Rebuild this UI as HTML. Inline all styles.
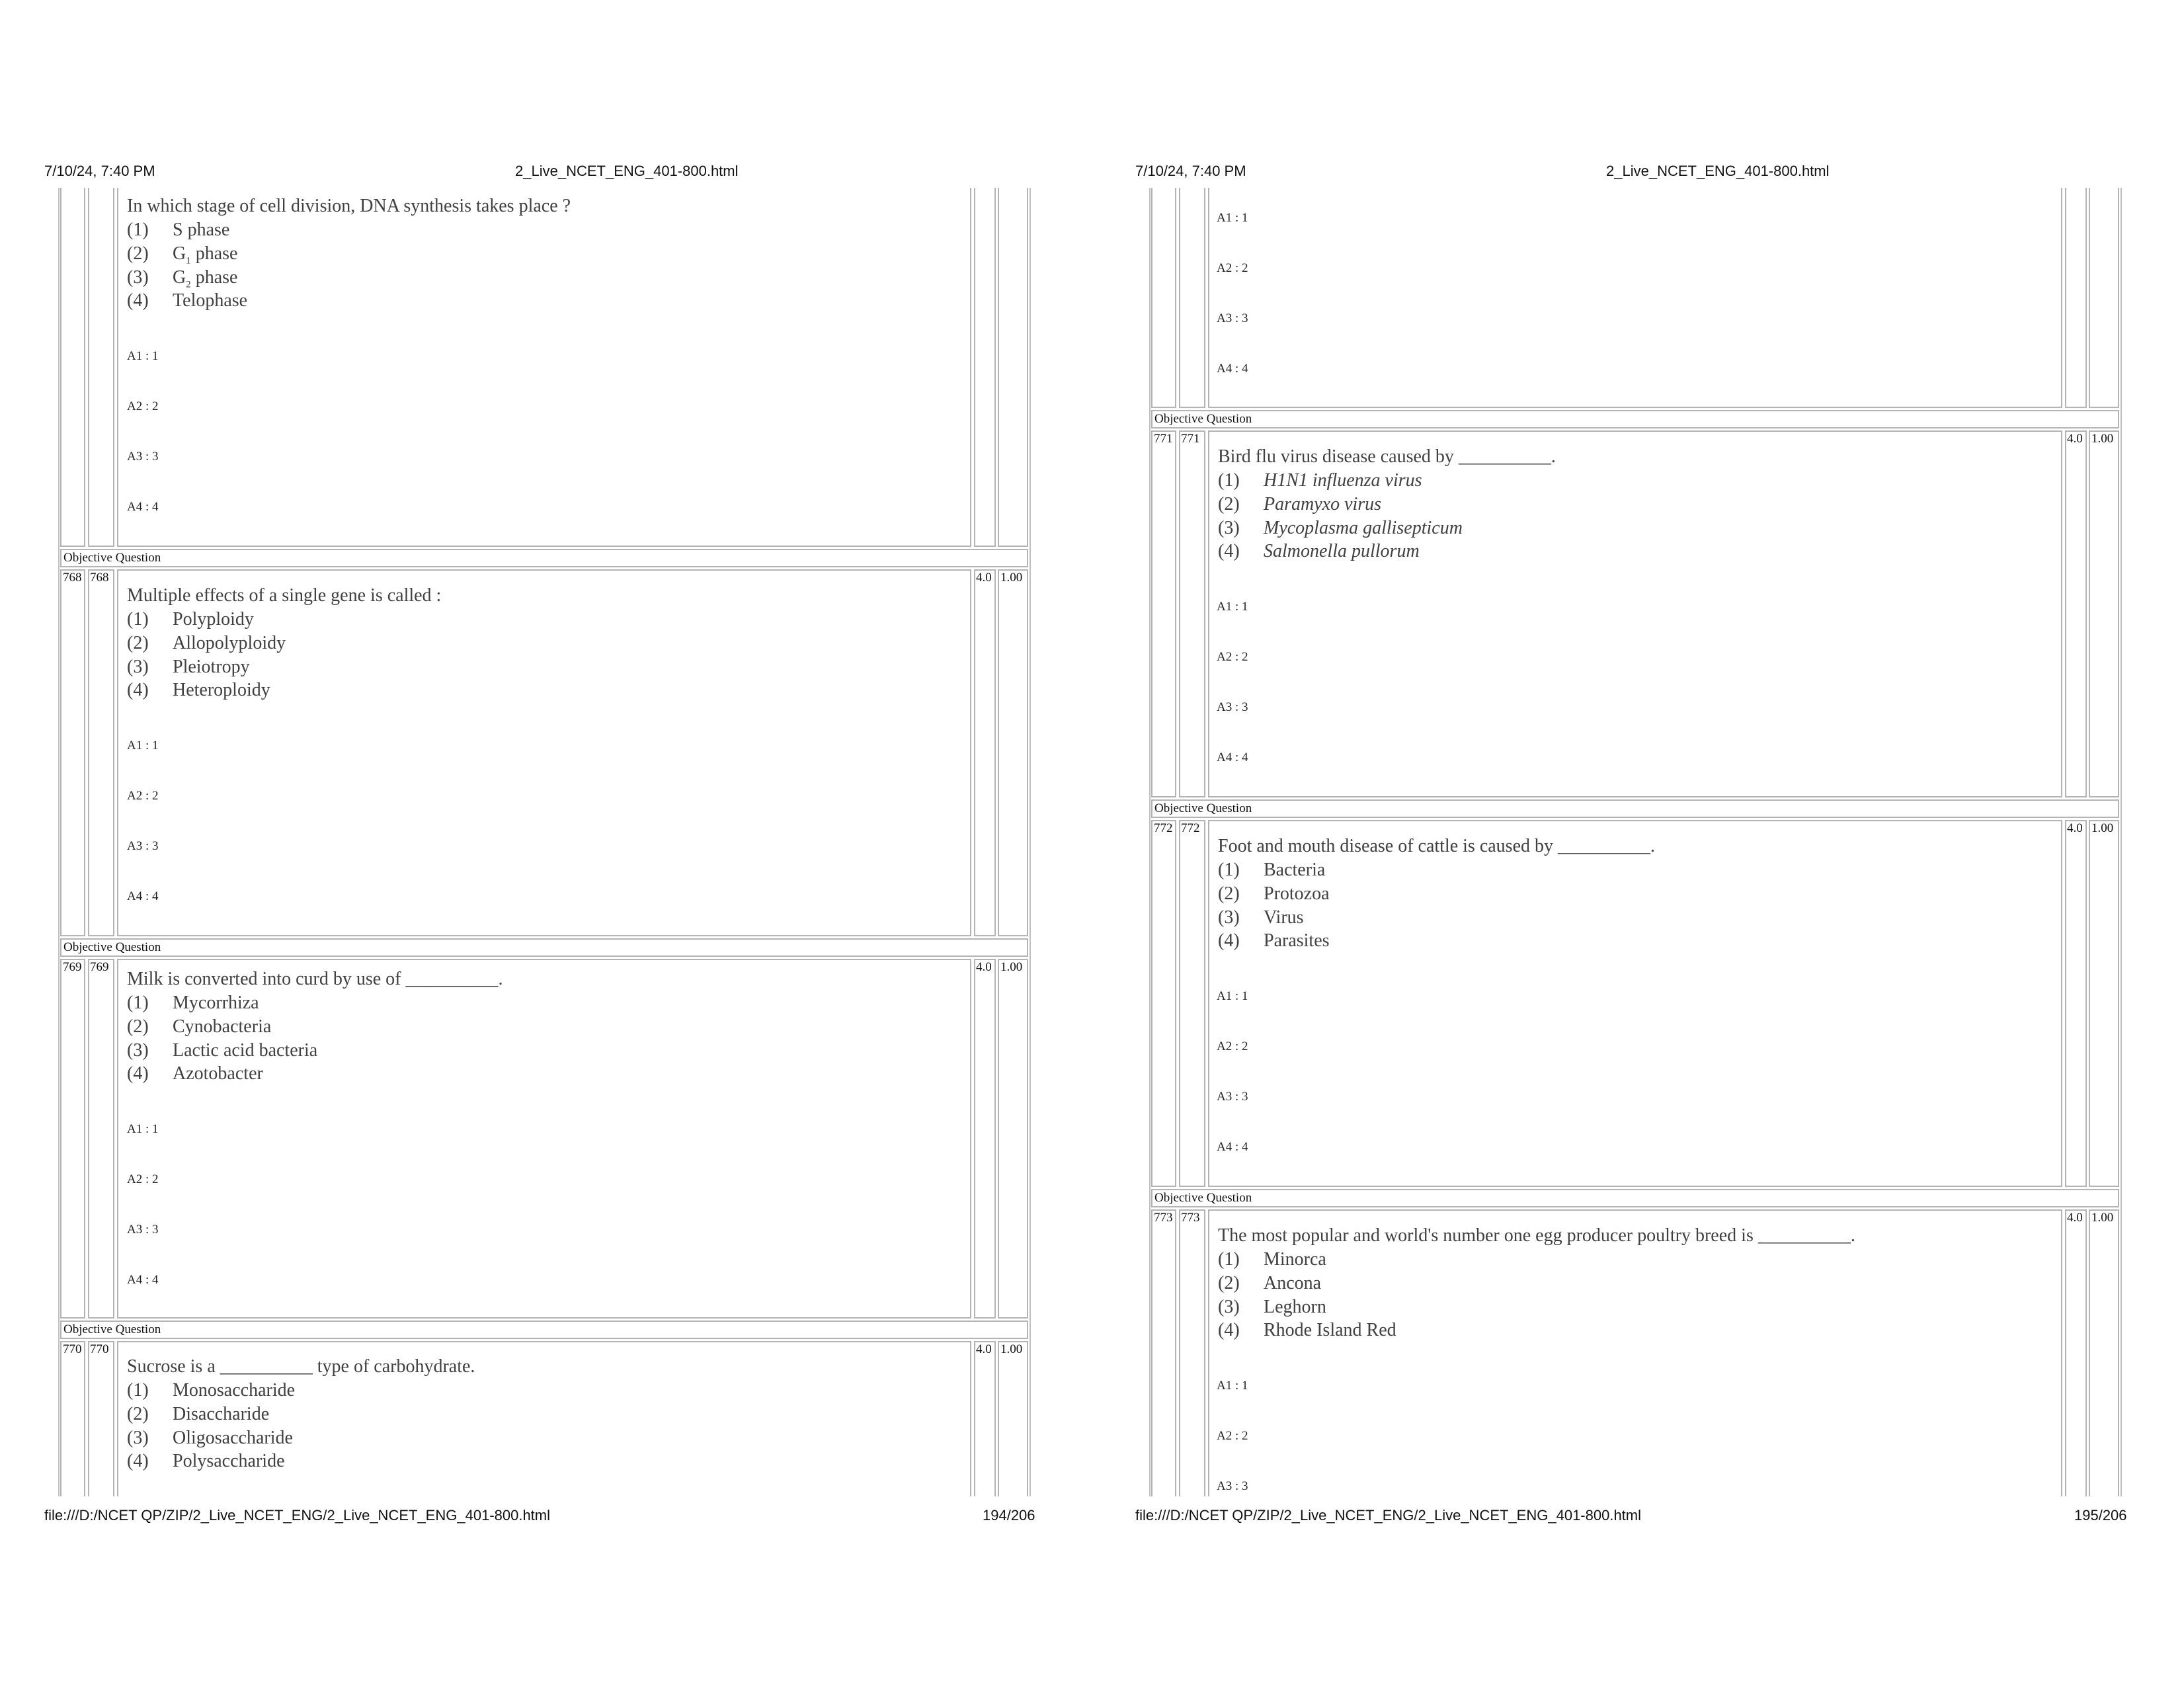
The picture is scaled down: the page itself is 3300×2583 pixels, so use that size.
<!DOCTYPE html>
<html><head><meta charset="utf-8"><style>
html,body{margin:0;padding:0;background:#fff}
body{width:3300px;height:2550px;position:relative;overflow:hidden;font-family:"Liberation Serif",serif}
.hd{position:absolute;font-family:"Liberation Sans",sans-serif;font-size:22px;color:#111;white-space:nowrap;line-height:26px}
.clip{position:absolute;left:0;top:0;width:3300px;height:2550px;clip-path:inset(284px 0 287px 0)}
.c{position:absolute;border:2px solid #b4b4b4;box-sizing:border-box}
.o{position:absolute;border:2px solid #c0c0c0;box-sizing:border-box}
.t{position:absolute;white-space:nowrap;line-height:36px;height:36px}
.q{font-size:28px;color:#404040}
.a{font-size:19px;color:#222}
.n{font-size:19px;color:#111}
.oq{font-size:19px;color:#111}
.op{position:absolute;left:69px}
i{font-style:italic}
</style></head><body>

<div class="hd" style="left:67px;top:246px">7/10/24, 7:40 PM</div>
<div class="hd" style="left:779px;top:246px">2_Live_NCET_ENG_401-800.html</div>
<div class="hd" style="left:1717px;top:246px">7/10/24, 7:40 PM</div>
<div class="hd" style="left:2429px;top:246px">2_Live_NCET_ENG_401-800.html</div>
<div class="hd" style="left:67px;top:2279px">file:///D:/NCET QP/ZIP/2_Live_NCET_ENG/2_Live_NCET_ENG_401-800.html</div>
<div class="hd" style="left:1486px;top:2279px">194/206</div>
<div class="hd" style="left:1717px;top:2279px">file:///D:/NCET QP/ZIP/2_Live_NCET_ENG/2_Live_NCET_ENG_401-800.html</div>
<div class="hd" style="left:3137px;top:2279px">195/206</div>

<div class="clip">
<!-- LEFT PAGE -->
<div class="o" style="left:88px;top:200px;width:1471px;height:2200px"></div>
<div class="c" style="left:91px;top:200px;width:38px;height:627px"></div>
<div class="c" style="left:133px;top:200px;width:40px;height:627px"></div>
<div class="c" style="left:177px;top:200px;width:1292px;height:627px"></div>
<div class="c" style="left:1473px;top:200px;width:33px;height:627px"></div>
<div class="c" style="left:1509px;top:200px;width:46px;height:627px"></div>
<div style="position:absolute;left:192px;top:272px">
<div class="t q" style="top:22px;left:0">In which stage of cell division, DNA synthesis takes place ?</div>
<div class="t q" style="top:58px">(1)<span class="op">S phase</span></div>
<div class="t q" style="top:94px">(2)<span class="op">G<sub style="font-size:15px">1</sub> phase</span></div>
<div class="t q" style="top:130px">(3)<span class="op">G<sub style="font-size:15px">2</sub> phase</span></div>
<div class="t q" style="top:165px">(4)<span class="op">Telophase</span></div>
<div class="t a" style="top:249px">A1 : 1</div>
<div class="t a" style="top:325px">A2 : 2</div>
<div class="t a" style="top:401px">A3 : 3</div>
<div class="t a" style="top:477px">A4 : 4</div>
</div>
<div class="c" style="left:91px;top:830px;width:1464px;height:28px"></div>
<div class="t oq" style="left:96px;top:826px">Objective Question</div>
<!-- row 768 -->
<div class="c" style="left:91px;top:861px;width:38px;height:555px"></div>
<div class="c" style="left:133px;top:861px;width:40px;height:555px"></div>
<div class="c" style="left:177px;top:861px;width:1292px;height:555px"></div>
<div class="c" style="left:1473px;top:861px;width:33px;height:555px"></div>
<div class="c" style="left:1509px;top:861px;width:46px;height:555px"></div>
<div class="t n" style="left:95px;top:856px">768</div>
<div class="t n" style="left:136px;top:856px">768</div>
<div class="t n" style="left:1476px;top:856px">4.0</div>
<div class="t n" style="left:1513px;top:856px">1.00</div>
<div style="position:absolute;left:192px;top:861px">
<div class="t q" style="top:22px">Multiple effects of a single gene is called :</div>
<div class="t q" style="top:58px">(1)<span class="op">Polyploidy</span></div>
<div class="t q" style="top:94px">(2)<span class="op">Allopolyploidy</span></div>
<div class="t q" style="top:130px">(3)<span class="op">Pleiotropy</span></div>
<div class="t q" style="top:165px">(4)<span class="op">Heteroploidy</span></div>
<div class="t a" style="top:249px">A1 : 1</div>
<div class="t a" style="top:325px">A2 : 2</div>
<div class="t a" style="top:401px">A3 : 3</div>
<div class="t a" style="top:477px">A4 : 4</div>
</div>
<div class="c" style="left:91px;top:1419px;width:1464px;height:28px"></div>
<div class="t oq" style="left:96px;top:1415px">Objective Question</div>
<!-- row 769 -->
<div class="c" style="left:91px;top:1450px;width:38px;height:544px"></div>
<div class="c" style="left:133px;top:1450px;width:40px;height:544px"></div>
<div class="c" style="left:177px;top:1450px;width:1292px;height:544px"></div>
<div class="c" style="left:1473px;top:1450px;width:33px;height:544px"></div>
<div class="c" style="left:1509px;top:1450px;width:46px;height:544px"></div>
<div class="t n" style="left:95px;top:1445px">769</div>
<div class="t n" style="left:136px;top:1445px">769</div>
<div class="t n" style="left:1476px;top:1445px">4.0</div>
<div class="t n" style="left:1513px;top:1445px">1.00</div>
<div style="position:absolute;left:192px;top:1441px">
<div class="t q" style="top:22px">Milk is converted into curd by use of __________.</div>
<div class="t q" style="top:58px">(1)<span class="op">Mycorrhiza</span></div>
<div class="t q" style="top:94px">(2)<span class="op">Cynobacteria</span></div>
<div class="t q" style="top:130px">(3)<span class="op">Lactic acid bacteria</span></div>
<div class="t q" style="top:165px">(4)<span class="op">Azotobacter</span></div>
<div class="t a" style="top:249px">A1 : 1</div>
<div class="t a" style="top:325px">A2 : 2</div>
<div class="t a" style="top:401px">A3 : 3</div>
<div class="t a" style="top:477px">A4 : 4</div>
</div>
<div class="c" style="left:91px;top:1997px;width:1464px;height:28px"></div>
<div class="t oq" style="left:96px;top:1993px">Objective Question</div>
<!-- row 770 -->
<div class="c" style="left:91px;top:2028px;width:38px;height:555px"></div>
<div class="c" style="left:133px;top:2028px;width:40px;height:555px"></div>
<div class="c" style="left:177px;top:2028px;width:1292px;height:555px"></div>
<div class="c" style="left:1473px;top:2028px;width:33px;height:555px"></div>
<div class="c" style="left:1509px;top:2028px;width:46px;height:555px"></div>
<div class="t n" style="left:95px;top:2023px">770</div>
<div class="t n" style="left:136px;top:2023px">770</div>
<div class="t n" style="left:1476px;top:2023px">4.0</div>
<div class="t n" style="left:1513px;top:2023px">1.00</div>
<div style="position:absolute;left:192px;top:2027px">
<div class="t q" style="top:22px">Sucrose is a __________ type of carbohydrate.</div>
<div class="t q" style="top:58px">(1)<span class="op">Monosaccharide</span></div>
<div class="t q" style="top:94px">(2)<span class="op">Disaccharide</span></div>
<div class="t q" style="top:130px">(3)<span class="op">Oligosaccharide</span></div>
<div class="t q" style="top:165px">(4)<span class="op">Polysaccharide</span></div>
</div>

<!-- RIGHT PAGE -->
<div class="o" style="left:1738px;top:200px;width:1471px;height:2200px"></div>
<div class="c" style="left:1741px;top:200px;width:38px;height:417px"></div>
<div class="c" style="left:1783px;top:200px;width:40px;height:417px"></div>
<div class="c" style="left:1827px;top:200px;width:1292px;height:417px"></div>
<div class="c" style="left:3123px;top:200px;width:33px;height:417px"></div>
<div class="c" style="left:3159px;top:200px;width:46px;height:417px"></div>
<div style="position:absolute;left:1840px;top:63px">
<div class="t a" style="top:249px">A1 : 1</div>
<div class="t a" style="top:325px">A2 : 2</div>
<div class="t a" style="top:401px">A3 : 3</div>
<div class="t a" style="top:477px">A4 : 4</div>
</div>
<div class="c" style="left:1741px;top:620px;width:1464px;height:28px"></div>
<div class="t oq" style="left:1746px;top:616px">Objective Question</div>
<!-- 771 -->
<div class="c" style="left:1741px;top:651px;width:38px;height:555px"></div>
<div class="c" style="left:1783px;top:651px;width:40px;height:555px"></div>
<div class="c" style="left:1827px;top:651px;width:1292px;height:555px"></div>
<div class="c" style="left:3123px;top:651px;width:33px;height:555px"></div>
<div class="c" style="left:3159px;top:651px;width:46px;height:555px"></div>
<div class="t n" style="left:1745px;top:646px">771</div>
<div class="t n" style="left:1786px;top:646px">771</div>
<div class="t n" style="left:3126px;top:646px">4.0</div>
<div class="t n" style="left:3163px;top:646px">1.00</div>
<div style="position:absolute;left:1842px;top:651px">
<div class="t q" style="top:22px">Bird flu virus disease caused by __________.</div>
<div class="t q" style="top:58px">(1)<span class="op"><i>H1N1 influenza virus</i></span></div>
<div class="t q" style="top:94px">(2)<span class="op"><i>Paramyxo virus</i></span></div>
<div class="t q" style="top:130px">(3)<span class="op"><i>Mycoplasma gallisepticum</i></span></div>
<div class="t q" style="top:165px">(4)<span class="op"><i>Salmonella pullorum</i></span></div>
<div class="t a" style="top:249px;left:-2px">A1 : 1</div>
<div class="t a" style="top:325px;left:-2px">A2 : 2</div>
<div class="t a" style="top:401px;left:-2px">A3 : 3</div>
<div class="t a" style="top:477px;left:-2px">A4 : 4</div>
</div>
<div class="c" style="left:1741px;top:1209px;width:1464px;height:28px"></div>
<div class="t oq" style="left:1746px;top:1205px">Objective Question</div>
<!-- 772 -->
<div class="c" style="left:1741px;top:1240px;width:38px;height:555px"></div>
<div class="c" style="left:1783px;top:1240px;width:40px;height:555px"></div>
<div class="c" style="left:1827px;top:1240px;width:1292px;height:555px"></div>
<div class="c" style="left:3123px;top:1240px;width:33px;height:555px"></div>
<div class="c" style="left:3159px;top:1240px;width:46px;height:555px"></div>
<div class="t n" style="left:1745px;top:1235px">772</div>
<div class="t n" style="left:1786px;top:1235px">772</div>
<div class="t n" style="left:3126px;top:1235px">4.0</div>
<div class="t n" style="left:3163px;top:1235px">1.00</div>
<div style="position:absolute;left:1842px;top:1240px">
<div class="t q" style="top:22px">Foot and mouth disease of cattle is caused by __________.</div>
<div class="t q" style="top:58px">(1)<span class="op">Bacteria</span></div>
<div class="t q" style="top:94px">(2)<span class="op">Protozoa</span></div>
<div class="t q" style="top:130px">(3)<span class="op">Virus</span></div>
<div class="t q" style="top:165px">(4)<span class="op">Parasites</span></div>
<div class="t a" style="top:249px;left:-2px">A1 : 1</div>
<div class="t a" style="top:325px;left:-2px">A2 : 2</div>
<div class="t a" style="top:401px;left:-2px">A3 : 3</div>
<div class="t a" style="top:477px;left:-2px">A4 : 4</div>
</div>
<div class="c" style="left:1741px;top:1798px;width:1464px;height:28px"></div>
<div class="t oq" style="left:1746px;top:1794px">Objective Question</div>
<!-- 773 -->
<div class="c" style="left:1741px;top:1829px;width:38px;height:555px"></div>
<div class="c" style="left:1783px;top:1829px;width:40px;height:555px"></div>
<div class="c" style="left:1827px;top:1829px;width:1292px;height:555px"></div>
<div class="c" style="left:3123px;top:1829px;width:33px;height:555px"></div>
<div class="c" style="left:3159px;top:1829px;width:46px;height:555px"></div>
<div class="t n" style="left:1745px;top:1824px">773</div>
<div class="t n" style="left:1786px;top:1824px">773</div>
<div class="t n" style="left:3126px;top:1824px">4.0</div>
<div class="t n" style="left:3163px;top:1824px">1.00</div>
<div style="position:absolute;left:1842px;top:1829px">
<div class="t q" style="top:22px">The most popular and world's number one egg producer poultry breed is __________.</div>
<div class="t q" style="top:58px">(1)<span class="op">Minorca</span></div>
<div class="t q" style="top:94px">(2)<span class="op">Ancona</span></div>
<div class="t q" style="top:130px">(3)<span class="op">Leghorn</span></div>
<div class="t q" style="top:165px">(4)<span class="op">Rhode Island Red</span></div>
<div class="t a" style="top:249px;left:-2px">A1 : 1</div>
<div class="t a" style="top:325px;left:-2px">A2 : 2</div>
<div class="t a" style="top:401px;left:-2px">A3 : 3</div>
</div>
</div>
</body></html>
